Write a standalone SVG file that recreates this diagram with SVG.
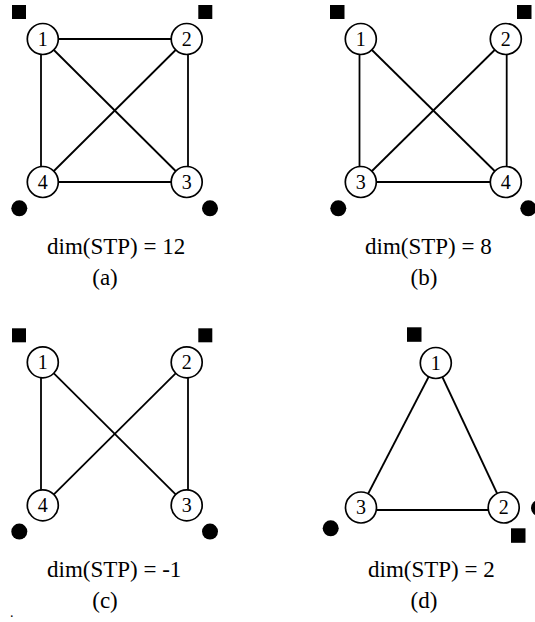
<svg xmlns="http://www.w3.org/2000/svg" width="535" height="622" viewBox="0 0 535 622">
<style>
.e{stroke:#000;stroke-width:1.8;fill:none}
.n circle{fill:#fff;stroke:#000;stroke-width:1.7}
.n text{font-family:"Liberation Serif","Times New Roman",serif;font-size:20px;text-anchor:middle;fill:#000}
.m{fill:#000}
.t{font-family:"Liberation Serif","Times New Roman",serif;font-size:23px;fill:#000}
.c{text-anchor:middle}
</style>
<rect width="535" height="622" fill="#fff"/>
<g id="connectors">
<line class="e" x1="42.8" y1="39" x2="186.7" y2="39"/>
<line class="e" x1="41" y1="39" x2="41" y2="182"/>
<line class="e" x1="188" y1="39" x2="188" y2="182"/>
<line class="e" x1="42.8" y1="182" x2="186.7" y2="182"/>
<line class="e" x1="42.8" y1="39" x2="186.7" y2="182"/>
<line class="e" x1="186.7" y1="39" x2="42.8" y2="182"/>
<line class="e" x1="359.5" y1="39" x2="359.5" y2="182"/>
<line class="e" x1="506.7" y1="39" x2="506.7" y2="182"/>
<line class="e" x1="360.8" y1="182" x2="505.8" y2="182"/>
<line class="e" x1="360.8" y1="39" x2="505.8" y2="182"/>
<line class="e" x1="505.8" y1="39" x2="360.8" y2="182"/>
<line class="e" x1="41" y1="362.3" x2="41" y2="505.3"/>
<line class="e" x1="188" y1="362.3" x2="188" y2="505.3"/>
<line class="e" x1="42.8" y1="362.3" x2="186.7" y2="505.3"/>
<line class="e" x1="186.7" y1="362.3" x2="42.8" y2="505.3"/>
<line class="e" x1="435.8" y1="363" x2="361" y2="507.5"/>
<line class="e" x1="435.8" y1="363" x2="503.7" y2="507.5"/>
<line class="e" x1="361" y1="510" x2="503.7" y2="510"/>
</g>
<g id="a">
<g id="a1" class="n"><circle cx="42.8" cy="39" r="15.5"/><text x="42.8" y="45.5">1</text></g>
<g id="a2" class="n"><circle cx="186.7" cy="39" r="15.5"/><text x="186.7" y="45.5">2</text></g>
<g id="a3" class="n"><circle cx="186.7" cy="182" r="15.5"/><text x="186.7" y="188.5">3</text></g>
<g id="a4" class="n"><circle cx="42.8" cy="182" r="15.5"/><text x="42.8" y="188.5">4</text></g>
<rect class="m" x="12" y="5" width="14" height="14"/>
<rect class="m" x="198.3" y="5" width="14" height="14"/>
<circle class="m" cx="19.3" cy="208.3" r="8"/>
<circle class="m" cx="210" cy="208.3" r="8"/>
<text class="t" x="47" y="254">dim(STP) = 12</text>
<text class="t c" x="105" y="285">(a)</text>
</g>
<g id="b">
<g id="b1" class="n"><circle cx="360.8" cy="39" r="15.5"/><text x="360.8" y="45.5">1</text></g>
<g id="b2" class="n"><circle cx="505.8" cy="39" r="15.5"/><text x="505.8" y="45.5">2</text></g>
<g id="b3" class="n"><circle cx="360.8" cy="182" r="15.5"/><text x="360.8" y="188.5">3</text></g>
<g id="b4" class="n"><circle cx="505.8" cy="182" r="15.5"/><text x="505.8" y="188.5">4</text></g>
<rect class="m" x="330" y="5" width="14.5" height="14"/>
<rect class="m" x="517" y="5" width="14.5" height="14"/>
<circle class="m" cx="338.3" cy="208.3" r="8"/>
<circle class="m" cx="528.3" cy="208.3" r="8"/>
<text class="t" x="365" y="254">dim(STP) = 8</text>
<text class="t c" x="424" y="285">(b)</text>
</g>
<g id="c">
<g id="c1" class="n"><circle cx="42.8" cy="362.3" r="15.5"/><text x="42.8" y="368.8">1</text></g>
<g id="c2" class="n"><circle cx="186.7" cy="362.3" r="15.5"/><text x="186.7" y="368.8">2</text></g>
<g id="c3" class="n"><circle cx="186.7" cy="505.3" r="15.5"/><text x="186.7" y="511.8">3</text></g>
<g id="c4" class="n"><circle cx="42.8" cy="505.3" r="15.5"/><text x="42.8" y="511.8">4</text></g>
<rect class="m" x="12" y="328.3" width="14" height="14"/>
<rect class="m" x="198.3" y="328.3" width="14" height="14"/>
<circle class="m" cx="19.3" cy="531.6" r="8"/>
<circle class="m" cx="210" cy="531.6" r="8"/>
<text class="t" x="47" y="577">dim(STP) = -1</text>
<text class="t c" x="105" y="608">(c)</text>
<text class="t" x="10" y="617" style="font-size:14px">.</text>
</g>
<g id="d">
<g id="d1" class="n"><circle cx="435.8" cy="363" r="15.5"/><text x="435.8" y="369.5">1</text></g>
<g id="d2" class="n"><circle cx="503.7" cy="507.5" r="15.5"/><text x="503.7" y="514">2</text></g>
<g id="d3" class="n"><circle cx="361" cy="507.5" r="15.5"/><text x="361" y="514">3</text></g>
<rect class="m" x="407" y="327.3" width="14.5" height="14.5"/>
<rect class="m" x="511" y="528.3" width="14.5" height="14.5"/>
<circle class="m" cx="330.7" cy="528.3" r="8"/>
<circle class="m" cx="539" cy="508" r="8"/>
<text class="t" x="368" y="577">dim(STP) = 2</text>
<text class="t c" x="424" y="608">(d)</text>
</g>
</svg>
